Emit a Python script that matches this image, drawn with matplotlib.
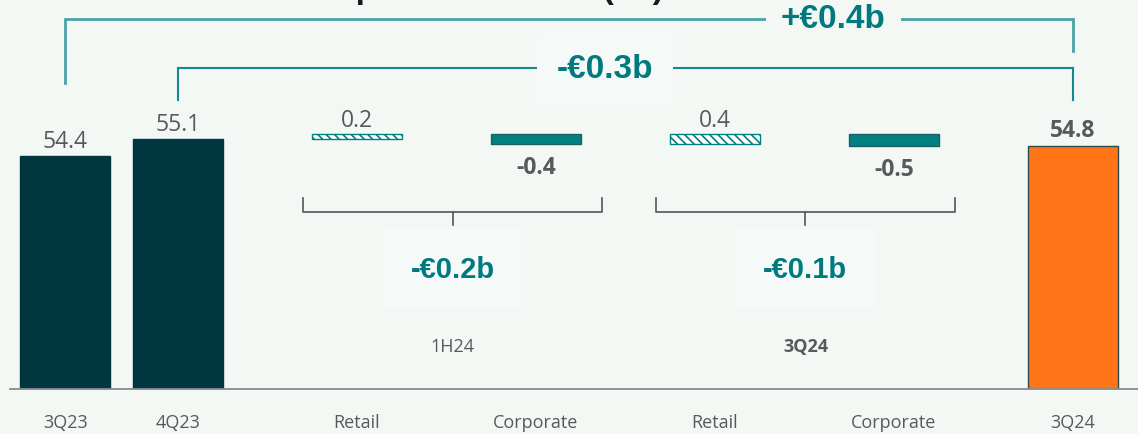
import matplotlib.pyplot as plt
import numpy as np

# chart data
categories = ["3Q23", "4Q23", "Retail", "Corporate", "Retail", "Corporate", "3Q24"]
totals = {"3Q23": 54.4, "4Q23": 55.1, "3Q24": 54.8}
deltas_1h24 = [0.2, -0.4]
deltas_3q24 = [0.4, -0.5]
bracket_labels = ["+€0.4b", "-€0.3b"]
group_changes = ["-€0.2b", "-€0.1b"]
group_names = ["1H24", "3Q24"]

bg = "#f3f8f5"
box_bg = "#f5f9f7"
dark = "#00363f"
teal = "#008080"
orange = "#ff7518"
grey = "#595959"
label_teal = "#007a7e"

plt.rcParams["font.family"] = ["Open Sans", "DejaVu Sans"]

fig = plt.figure(figsize=(11.38, 4.35), dpi=100, facecolor=bg)
ax = fig.add_axes([10 / 1138, 45 / 435, 1128 / 1138, 390 / 435])
ax.set_facecolor(bg)

x = np.array([0.37, 1, 2, 3, 4, 5, 6])
w = 0.5
ax.set_xlim(0.0615, 6.363)
ax.set_ylim(44.8, 60.85)

# total bars
ax.bar(x[0], totals["3Q23"] - 44.8, w, bottom=44.8, color=dark, edgecolor=dark)
ax.bar(x[1], totals["4Q23"] - 44.8, w, bottom=44.8, color=dark, edgecolor=dark)
ax.bar(x[6], totals["3Q24"] - 44.8, w, bottom=44.8, color=orange,
       edgecolor="#2e4a4c", linewidth=1)

ax.annotate(f"{totals['3Q23']}", (x[0], totals["3Q23"]), xytext=(0, 2),
            textcoords="offset points", ha="center", va="bottom",
            fontsize=16.5, color=grey)
ax.annotate(f"{totals['4Q23']}", (x[1], totals["4Q23"]), xytext=(0, 2),
            textcoords="offset points", ha="center", va="bottom",
            fontsize=16.5, color=grey)
ax.annotate(f"{totals['3Q24']}", (x[6], totals["3Q24"]), xytext=(0, 3),
            textcoords="offset points", ha="center", va="bottom",
            fontsize=16.5, color=grey, fontweight="bold")

# small delta bars, floating level
level = 55.3
plt.rcParams["hatch.color"] = teal
plt.rcParams["hatch.linewidth"] = 1.2
for xi, vals in zip([(x[2], x[3]), (x[4], x[5])], [deltas_1h24, deltas_3q24]):
    pos, neg = vals
    ax.bar(xi[0], pos, w, bottom=level - pos, color="white", edgecolor=teal,
           hatch="\\\\\\\\", linewidth=1)
    ax.bar(xi[1], neg, w, bottom=level, color=teal, edgecolor="#1f5f5f",
           linewidth=1)
    ax.annotate(f"{pos}", (xi[0], level), xytext=(0, 1),
                textcoords="offset points", ha="center", va="bottom",
                fontsize=16.5, color=grey)
    ax.annotate(f"{neg}", (xi[1], level + neg), xytext=(0, -8),
                textcoords="offset points", ha="center", va="top",
                fontsize=16.5, color=grey, fontweight="bold")

# top brackets
ax.plot([x[0], x[0], x[6], x[6]], [57.39, 60.03, 60.03, 58.71],
        color="#4aa3a8", lw=2, solid_joinstyle="miter")
ax.text(4.66, 60.03, bracket_labels[0], ha="center", va="center",
        fontsize=24, fontweight="bold", color=label_teal,
        family="Liberation Sans", bbox=dict(boxstyle="square,pad=0.45",
                                            facecolor=bg, edgecolor="none"))
ax.plot([x[1], x[1], x[6], x[6]], [56.69, 58.01, 58.01, 56.69],
        color="#16878c", lw=1.5, solid_joinstyle="miter")
ax.text(3.385, 58.01, bracket_labels[1], ha="center", va="center",
        fontsize=24, fontweight="bold", color=label_teal,
        family="Liberation Sans", bbox=dict(boxstyle="square,pad=0.6",
                                            facecolor=box_bg, edgecolor="none"))

# group brackets
for left, right, change, name, bold in [(1.698, 3.369, group_changes[0], group_names[0], False),
                                        (3.67, 5.34, group_changes[1], group_names[1], True)]:
    mid = (left + right) / 2
    ax.plot([left, left, right, right], [52.66, 52.08, 52.08, 52.66],
            color="#555555", lw=1.2)
    ax.plot([mid, mid], [52.08, 51.55], color="#555555", lw=1.2)
    ax.text(mid, 49.74, change, ha="center", va="center", fontsize=21,
            fontweight="bold", color=label_teal, family="Liberation Sans",
            bbox=dict(boxstyle="square,pad=0.9", facecolor=box_bg,
                      edgecolor="none"))
    ax.text(mid, 46.57, name, ha="center", va="center", fontsize=13,
            color=grey, fontweight="bold" if bold else "normal")

# title, cut off by the top edge as in the source slide
fig.text(0.275, 1.004, "Deposit evolution (€b)", ha="left", va="baseline",
         fontsize=24, fontweight="bold", color="#1a1a1a", family="Liberation Sans")

ax.set_xticks(x, categories)
ax.tick_params(axis="x", length=0, pad=17, labelsize=13, labelcolor=grey)
ax.set_yticks([])
for s in ["top", "right", "left"]:
    ax.spines[s].set_visible(False)
ax.spines["bottom"].set_color("#8a8a8a")
ax.spines["bottom"].set_linewidth(1.3)

fig.savefig("out.png", dpi=100, facecolor=bg)
